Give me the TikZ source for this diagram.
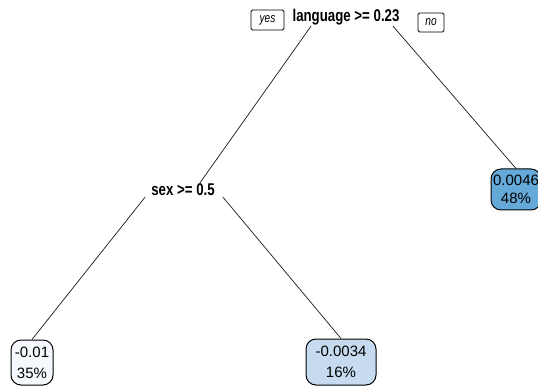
\documentclass[tikz,border=0pt]{standalone}
\usepackage{fontspec}
\setmainfont{Liberation Sans}
\newfontfamily\narrowfont[FakeStretch=0.78]{Liberation Sans}
\usetikzlibrary{positioning}

\definecolor{leafpale}{HTML}{F5F9FE}
\definecolor{leaflight}{HTML}{C6DBEF}
\definecolor{leafmid}{HTML}{64A9D8}

\tikzset{
  split/.style={font=\narrowfont\bfseries\fontsize{17}{17}\selectfont, inner sep=1pt},
  leaf/.style={draw, rounded corners=10pt, line width=1pt, align=center,
    font=\fontsize{15}{21}\selectfont, inner sep=1pt, minimum height=46pt},
  tag/.style={draw, rounded corners=1.5pt, line width=0.9pt,
    font=\narrowfont\itshape\fontsize{13}{13}\selectfont, inner sep=2pt},
  branch/.style={draw=black!90, line width=0.7pt}
}

\begin{document}
\begin{tikzpicture}[x=1pt, y=-1pt]
  \useasboundingbox (0,0) rectangle (538,387);

  % splits
  \node[split] (lang) at (346,17) {language >= 0.23};
  \node[split] (sex) at (183,190) {sex >= 0.5};
  \node[tag, minimum width=33pt, minimum height=20pt] (yes) at (267.5,20) {yes};
  \node[tag, minimum width=26pt, minimum height=19pt] (no) at (431,22.5) {no};

  % leaves
  \node[leaf, fill=leafpale, minimum width=42pt, minimum height=45pt] (lowlang) at (32,362.5) {-0.01\\35\%};
  \node[leaf, fill=leaflight, minimum width=70pt] (midlang) at (341,362) {-0.0034\\16\%};
  \node[leaf, fill=leafmid, minimum width=50pt, minimum height=41pt,
    font=\fontsize{15}{18}\selectfont] (highlang) at (516,189.5) {0.0046\\48\%};

  % branches
  \draw[branch] ([xshift=-35pt]lang.south) -- ([xshift=17pt]sex.north);
  \draw[branch] ([xshift=47pt]lang.south) -- (highlang.north);
  \draw[branch] ([xshift=-38pt]sex.south) -- (lowlang.north);
  \draw[branch] ([xshift=40pt]sex.south) -- (midlang.north);
\end{tikzpicture}
\end{document}
